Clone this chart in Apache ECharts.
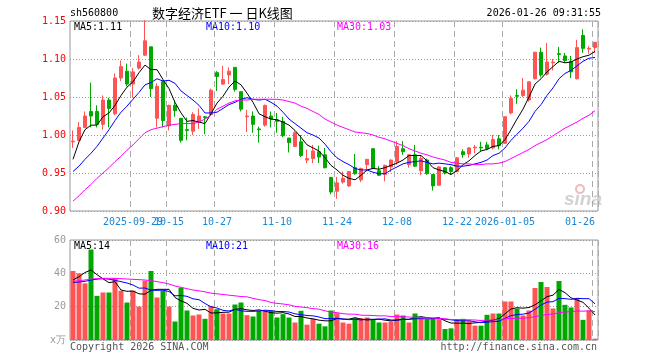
<!DOCTYPE html>
<html><head><meta charset="utf-8">
<script src="https://cdn.jsdelivr.net/npm/echarts@6/dist/echarts.min.js"></script>
<style>html,body{margin:0;padding:0;background:#fff}#c{width:660px;height:360px}</style>
</head><body><div id="c"></div>
<script>
const dates = ['2025-09-15','2025-09-16','2025-09-17','2025-09-18','2025-09-19','2025-09-22','2025-09-23','2025-09-24','2025-09-25','2025-09-26','2025-09-29','2025-09-30','2025-10-09','2025-10-10','2025-10-13','2025-10-14','2025-10-15','2025-10-16','2025-10-17','2025-10-20','2025-10-21','2025-10-22','2025-10-23','2025-10-24','2025-10-27','2025-10-28','2025-10-29','2025-10-30','2025-10-31','2025-11-03','2025-11-04','2025-11-05','2025-11-06','2025-11-07','2025-11-10','2025-11-11','2025-11-12','2025-11-13','2025-11-14','2025-11-17','2025-11-18','2025-11-19','2025-11-20','2025-11-21','2025-11-24','2025-11-25','2025-11-26','2025-11-27','2025-11-28','2025-12-01','2025-12-02','2025-12-03','2025-12-04','2025-12-05','2025-12-08','2025-12-09','2025-12-10','2025-12-11','2025-12-12','2025-12-15','2025-12-16','2025-12-17','2025-12-18','2025-12-19','2025-12-22','2025-12-23','2025-12-24','2025-12-25','2025-12-26','2025-12-29','2025-12-30','2025-12-31','2026-01-05','2026-01-06','2026-01-07','2026-01-08','2026-01-09','2026-01-12','2026-01-13','2026-01-14','2026-01-15','2026-01-16','2026-01-19','2026-01-20','2026-01-21','2026-01-22','2026-01-23','2026-01-26'];
const open  = [0.991,0.993,1.010,1.031,1.031,1.014,1.046,1.028,1.075,1.084,1.067,1.088,1.105,1.116,1.022,1.070,1.012,1.039,1.022,1.007,1.005,1.017,1.024,1.027,1.082,1.067,1.079,1.089,1.057,1.024,1.025,1.008,1.013,1.025,1.020,1.018,0.996,0.985,0.991,0.967,0.969,0.978,0.974,0.944,0.926,0.938,0.933,0.957,0.941,0.961,0.982,0.953,0.948,0.958,0.965,0.982,0.961,0.974,0.953,0.967,0.948,0.934,0.957,0.957,0.952,0.978,0.975,0.983,0.984,0.987,0.983,0.995,0.989,1.029,1.052,1.052,1.046,1.074,1.109,1.080,1.095,1.107,1.104,1.097,1.074,1.131,1.113,1.115];
const close = [0.992,1.010,1.025,1.025,1.014,1.046,1.035,1.075,1.090,1.067,1.083,1.096,1.124,1.061,1.064,1.019,1.039,1.032,0.993,1.006,1.027,1.025,1.023,1.059,1.077,1.073,1.084,1.060,1.034,1.025,1.014,1.007,1.039,1.021,1.018,0.999,0.990,1.003,0.973,0.969,0.979,0.971,0.957,0.925,0.937,0.943,0.952,0.949,0.956,0.968,0.956,0.947,0.960,0.967,0.985,0.978,0.974,0.959,0.969,0.949,0.933,0.958,0.950,0.952,0.970,0.974,0.983,0.984,0.983,0.982,0.994,0.986,1.024,1.048,1.051,1.059,1.070,1.109,1.079,1.096,1.096,1.106,1.098,1.083,1.115,1.114,1.114,1.122];
const low   = [0.983,0.992,1.009,1.010,1.010,1.007,1.010,1.026,1.071,1.064,1.049,1.086,1.104,1.050,1.010,1.010,1.006,1.024,0.990,0.993,1.000,1.008,1.001,1.026,1.058,1.066,1.067,1.057,1.031,1.004,1.003,0.990,1.011,1.010,1.003,0.997,0.977,0.984,0.971,0.963,0.963,0.963,0.956,0.922,0.916,0.936,0.932,0.948,0.938,0.952,0.955,0.946,0.939,0.951,0.961,0.974,0.957,0.958,0.947,0.948,0.927,0.933,0.948,0.948,0.951,0.970,0.970,0.976,0.979,0.980,0.981,0.981,0.989,1.027,1.041,1.050,1.044,1.073,1.076,1.078,1.085,1.095,1.095,1.075,1.073,1.108,1.107,1.108];
const high  = [1.006,1.017,1.031,1.069,1.039,1.052,1.049,1.081,1.098,1.094,1.088,1.105,1.151,1.116,1.068,1.072,1.040,1.045,1.022,1.023,1.030,1.035,1.025,1.061,1.084,1.091,1.089,1.089,1.057,1.033,1.031,1.011,1.040,1.031,1.029,1.024,0.996,1.005,1.000,0.981,0.987,0.986,0.983,0.945,0.945,0.952,0.952,0.975,0.957,0.968,0.982,0.959,0.961,0.968,0.992,0.992,0.975,0.987,0.972,0.969,0.948,0.959,0.958,0.959,0.971,0.981,0.984,0.987,0.991,0.991,1.000,1.000,1.024,1.052,1.060,1.075,1.070,1.109,1.115,1.121,1.100,1.116,1.108,1.104,1.125,1.139,1.117,1.122];
const volume = [41.4,40.0,34.0,54.3,26.5,28.5,28.5,37.0,29.6,22.5,29.5,20.1,35.6,41.4,25.5,29.5,20.1,11.1,31.4,17.7,14.7,15.3,12.7,20.5,18.5,15.9,15.9,21.3,22.5,14.9,14.1,17.5,17.7,17.7,13.5,15.5,13.5,10.5,17.5,9.2,12.7,9.8,8.2,17.7,16.1,10.5,9.8,13.1,13.1,13.5,12.1,10.5,10.5,11.1,15.3,14.7,10.5,15.9,13.5,12.5,12.5,12.5,6.6,7.0,11.7,12.7,11.3,8.6,8.6,15.1,15.9,15.9,23.1,23.1,18.9,14.7,17.7,31.2,34.8,31.8,18.9,35.4,21.1,19.5,25.1,12.1,17.7,0.8];
const ma5  = [0.968,0.991,1.007,1.013,1.013,1.024,1.029,1.039,1.052,1.063,1.070,1.082,1.092,1.086,1.086,1.073,1.061,1.043,1.029,1.018,1.019,1.017,1.015,1.028,1.042,1.051,1.063,1.071,1.066,1.055,1.043,1.028,1.024,1.021,1.020,1.017,1.013,1.006,0.997,0.987,0.983,0.979,0.970,0.960,0.954,0.947,0.943,0.941,0.947,0.954,0.956,0.955,0.957,0.960,0.963,0.967,0.973,0.973,0.973,0.966,0.957,0.954,0.952,0.948,0.953,0.961,0.966,0.973,0.979,0.981,0.985,0.986,0.994,1.007,1.021,1.034,1.050,1.067,1.074,1.083,1.090,1.097,1.095,1.096,1.100,1.103,1.105,1.110];
const ma10 = [0.952,0.959,0.968,0.976,0.985,0.996,1.007,1.019,1.030,1.038,1.047,1.056,1.066,1.069,1.074,1.071,1.072,1.068,1.058,1.052,1.046,1.039,1.029,1.029,1.030,1.035,1.040,1.043,1.047,1.049,1.047,1.046,1.047,1.043,1.038,1.030,1.021,1.015,1.009,1.003,1.000,0.996,0.988,0.978,0.970,0.965,0.961,0.956,0.954,0.954,0.951,0.949,0.949,0.954,0.958,0.962,0.964,0.965,0.966,0.964,0.962,0.963,0.962,0.961,0.959,0.959,0.960,0.962,0.964,0.967,0.973,0.976,0.983,0.993,1.001,1.009,1.018,1.031,1.040,1.052,1.062,1.074,1.081,1.085,1.091,1.097,1.101,1.102];
const ma30 = [0.913,0.920,0.928,0.935,0.943,0.950,0.957,0.965,0.972,0.980,0.987,0.995,1.003,1.007,1.009,1.011,1.013,1.014,1.015,1.015,1.015,1.017,1.021,1.026,1.034,1.038,1.042,1.045,1.046,1.046,1.047,1.047,1.047,1.047,1.047,1.046,1.044,1.042,1.038,1.035,1.031,1.027,1.021,1.017,1.013,1.010,1.007,1.004,1.003,1.002,1.000,0.997,0.995,0.992,0.989,0.986,0.982,0.979,0.976,0.974,0.971,0.969,0.967,0.964,0.963,0.962,0.962,0.961,0.961,0.962,0.962,0.963,0.965,0.969,0.973,0.977,0.981,0.986,0.990,0.994,0.999,1.004,1.009,1.013,1.017,1.022,1.026,1.032];
const vma5  = [36.0,38.0,40.5,42.0,39.2,36.7,34.4,35.0,30.0,29.2,29.4,27.7,27.5,29.8,30.4,30.4,30.4,25.5,23.5,22.0,19.0,18.0,18.4,16.2,16.3,16.6,16.7,18.4,18.8,18.1,17.7,18.1,17.3,16.4,16.1,16.4,15.6,14.1,14.1,13.2,12.7,11.9,11.5,11.5,12.9,12.5,12.5,13.4,12.5,12.0,12.3,12.5,11.9,11.5,11.9,12.4,12.4,13.5,14.0,13.4,13.0,13.4,11.5,10.2,10.1,10.1,9.9,10.3,10.6,11.3,11.9,12.8,15.7,18.6,19.4,19.1,19.5,21.1,23.5,26.0,26.9,30.4,28.4,25.3,24.0,22.6,19.1,15.0];
const vma10 = [34.5,34.8,35.2,36.0,36.5,36.8,36.5,35.8,35.0,34.2,33.0,31.1,31.2,29.9,29.8,29.9,29.1,26.5,26.7,26.2,24.7,24.2,21.9,19.9,19.2,17.8,17.4,18.4,17.5,17.2,17.2,17.4,17.9,17.6,17.1,17.1,16.8,15.7,15.2,14.7,14.5,13.8,12.8,12.8,13.1,12.6,12.2,12.5,12.0,12.5,12.4,12.5,12.7,12.0,12.0,12.4,12.4,12.7,12.8,12.7,12.7,12.9,12.5,12.1,11.7,11.5,11.6,10.9,10.4,10.7,11.0,11.3,13.0,14.6,15.3,15.5,16.2,18.4,21.0,22.7,23.0,25.0,24.8,24.4,25.0,24.8,24.8,21.7];
const vma30 = [35.0,35.6,36.0,36.6,36.8,37.0,37.0,37.0,36.8,36.6,36.4,36.2,36.0,35.6,35.0,34.4,33.6,32.4,31.6,30.8,30.0,29.5,28.9,28.1,27.7,27.3,26.9,26.5,26.1,25.9,25.0,24.2,23.7,22.5,22.0,21.6,21.1,20.2,19.8,19.4,18.8,18.5,17.5,16.8,16.4,15.8,15.5,15.5,14.9,14.8,14.7,14.5,14.5,14.1,14.0,14.0,13.8,13.6,13.3,13.3,13.2,13.0,12.7,12.3,12.3,12.2,12.1,12.0,11.7,11.9,12.0,12.2,12.7,12.9,13.0,13.1,13.4,14.0,14.7,15.3,15.6,16.4,16.8,17.0,17.4,17.3,17.5,17.0];
const tickDates  = ['2025-09-29','2025-10-15','2025-10-27','2025-11-10','2025-11-24','2025-12-08','2025-12-22','2026-01-05','2026-01-26'];
const tickLabels = ['2025-09-29','10-15','10-27','11-10','11-24','12-08','12-22','2026-01-05','01-26'];
const priceTicks = [0.90, 0.95, 1.00, 1.05, 1.10, 1.15];
const volTicks = [0, 20, 40, 60];
const legendPrice = ['MA5:1.11','MA10:1.10','MA30:1.03'];
const legendVol = ['MA5:14','MA10:21','MA30:16'];

const RED = '#ff5454', GREEN = '#00a800';
const MONO = 'DejaVu Sans Mono';
const isTick = (i) => tickDates.indexOf(dates[i]) >= 0;
const fmtTick = (v) => { const k = tickDates.indexOf(v); return k >= 0 ? tickLabels[k] : ''; };
const candles = dates.map((d, i) => [open[i], close[i], low[i], high[i]]);
const volBars = volume.map((v, i) => ({ value: v, itemStyle: { color: close[i] >= open[i] ? RED : GREEN } }));

const chart = echarts.init(document.getElementById('c'), null, { renderer: 'canvas' });
const splitV = { show: true, interval: (i) => isTick(i), lineStyle: { color: '#aaa', type: [6, 4], width: 1 } };
const lineS = (name, data, color, xi, yi) => ({ name, type: 'line', data, xAxisIndex: xi, yAxisIndex: yi, symbol: 'none', smooth: false, lineStyle: { color, width: 1 }, itemStyle: { color }, z: 5 });
const txt = (text, x, y, fill, opts) => Object.assign({ type: 'text', silent: true, style: Object.assign({ text, x, y, fill, font: '10px "' + MONO + '"', verticalAlign: 'middle', align: 'left' }, opts || {}) });

chart.setOption({
  animation: false,
  backgroundColor: '#fff',
  grid: [
    { left: 70, top: 21, width: 528, height: 190, show: true, borderColor: '#999', borderWidth: 1, backgroundColor: 'transparent' },
    { left: 70, top: 240, width: 528, height: 100, show: true, borderColor: '#999', borderWidth: 1, backgroundColor: 'transparent' }
  ],
  xAxis: [
    { type: 'category', gridIndex: 0, data: dates, boundaryGap: true, axisLine: { show: false }, axisTick: { show: false },
      axisLabel: { interval: 0, formatter: fmtTick, color: '#1a88d8', fontFamily: MONO, fontSize: 10, margin: 6, alignMaxLabel: 'right', hideOverlap: false },
      splitLine: splitV },
    { type: 'category', gridIndex: 1, data: dates, boundaryGap: true, axisLine: { show: false }, axisTick: { show: false }, axisLabel: { show: false },
      splitLine: splitV }
  ],
  yAxis: [
    { type: 'value', gridIndex: 0, min: priceTicks[0], max: priceTicks[priceTicks.length - 1], interval: 0.05, axisLine: { show: false }, axisTick: { show: false },
      axisLabel: { formatter: (v) => v.toFixed(2), color: '#ff0000', fontFamily: MONO, fontSize: 10, margin: 4 },
      splitLine: { show: true, lineStyle: { color: '#999', type: [1, 2], width: 1 } } },
    { type: 'value', gridIndex: 1, min: volTicks[0], max: volTicks[volTicks.length - 1], interval: 20, axisLine: { show: false }, axisTick: { show: false },
      axisLabel: { formatter: (v) => v === 0 ? 'x万' : String(v), color: '#999', fontFamily: MONO, fontSize: 10, margin: 4 },
      splitLine: { show: true, lineStyle: { color: '#999', type: [1, 2], width: 1 } } }
  ],
  series: [
    { type: 'candlestick', xAxisIndex: 0, yAxisIndex: 0, data: candles, barWidth: 4, clip: true,
      itemStyle: { color: RED, color0: GREEN, borderColor: RED, borderColor0: GREEN, borderWidth: 1 }, z: 3 },
    lineS('MA5', ma5, '#000000', 0, 0),
    lineS('MA10', ma10, '#0000ff', 0, 0),
    lineS('MA30', ma30, '#ff00ff', 0, 0),
    { type: 'bar', xAxisIndex: 1, yAxisIndex: 1, data: volBars, barWidth: 5, z: 3 },
    lineS('VMA5', vma5, '#000000', 1, 1),
    lineS('VMA10', vma10, '#0000ff', 1, 1),
    lineS('VMA30', vma30, '#ff00ff', 1, 1)
  ],
  graphic: [
    txt('sh560800', 70, 13, '#000'),
    txt('数字经济ETF 一 日K线图', 152, 13, '#000', { font: '13px "Noto Sans CJK SC"' }),
    txt('2026-01-26 09:31:55', 601, 13, '#000', { align: 'right' }),
    txt(legendPrice[0], 74, 27, '#000'),
    txt(legendPrice[1], 206, 27, '#0000ff'),
    txt(legendPrice[2], 337, 27, '#ff00ff'),
    txt(legendVol[0], 74, 246, '#000'),
    txt(legendVol[1], 206, 246, '#0000ff'),
    txt(legendVol[2], 337, 246, '#ff00ff'),
    txt('Copyright 2026 SINA.COM', 70, 347, '#555'),
    txt('http://finance.sina.com.cn', 597, 347, '#555', { align: 'right' }),
    { type: 'circle', silent: true, shape: { cx: 580, cy: 189, r: 4 }, style: { fill: 'none', stroke: '#f2b8b8', lineWidth: 2 } },
    txt('sina', 564, 200, '#d2d2d2', { font: 'italic bold 19px "Liberation Sans"' })
  ]
});
</script></body></html>
